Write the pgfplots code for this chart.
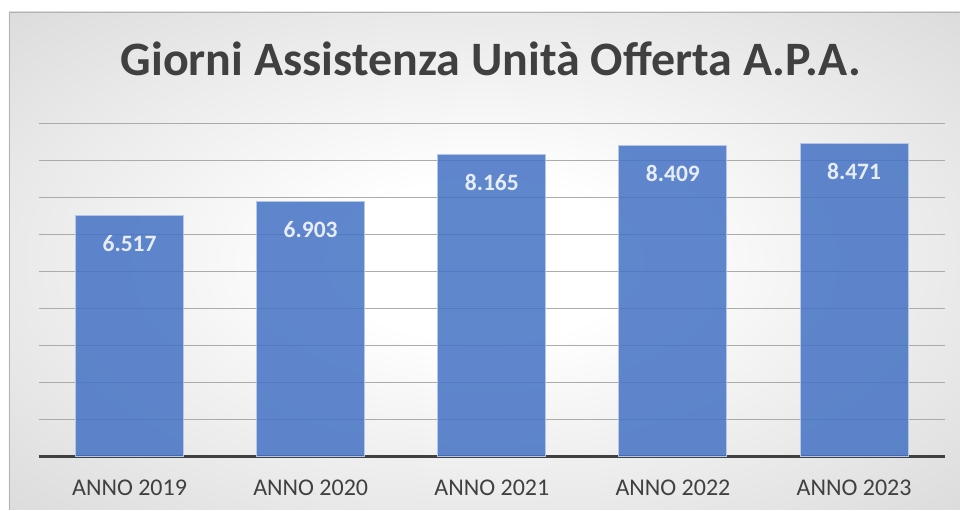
\documentclass[border=0pt]{standalone}
\usepackage{pgfplots}
\pgfplotsset{compat=1.18}
\usepackage{fontspec}
\setmainfont{Carlito}
\definecolor{barblue}{RGB}{68,114,196}
\definecolor{txtgray}{RGB}{64,64,64}
\pgfdeclareradialshading{chartbg}{\pgfpoint{0bp}{0bp}}{%
  color(0bp)=(white); color(8bp)=(white); color(50bp)=(black!21); color(72bp)=(black!28)}

\begin{document}
\begin{tikzpicture}
% page and chart background
\fill[white] (0bp,0bp) rectangle (960bp,510bp);
\shade[shading=chartbg] (9bp,0bp) rectangle (960bp,498bp);
\draw[black!30, line width=0.8bp] (9bp,0bp) -- (9bp,498bp) -- (960bp,498bp);

% title
\node[anchor=base, font=\fontsize{48bp}{52bp}\selectfont\bfseries, text=txtgray, inner sep=0pt]
  at (491bp,434bp) {Giorni Assistenza Unità Offerta A.P.A.};

\begin{axis}[
    at={(39bp,53bp)}, anchor=south west,
    scale only axis,
    width=906bp, height=333bp,
    xmin=-0.5, xmax=4.5,
    ymin=0, ymax=9000,
    ybar, bar width=108bp,
    axis x line*=bottom,
    y axis line style={draw=none},
    x axis line style={-, line width=3bp, color=txtgray},
    xtick=data,
    xticklabels={ANNO 2019,ANNO 2020,ANNO 2021,ANNO 2022,ANNO 2023},
    major tick length=0pt,
    xticklabel style={font=\fontsize{24bp}{26bp}\selectfont, text=txtgray, inner sep=0pt, yshift=-23bp},
    ytick={1000,2000,...,9000},
    yticklabels={},
    ymajorgrids,
    grid style={black!33, line width=1bp},
    nodes near coords,
    point meta=explicit symbolic,
    every node near coord/.append style={anchor=north, inner sep=0pt, yshift=-19bp,
        font=\fontsize{23.5bp}{26bp}\selectfont\bfseries, text=white},
    clip=false,
]
\addplot[fill=barblue, fill opacity=0.85, draw=barblue!40!white, line width=1bp]
  table[meta=label] {
x y label
0 6517 6.517
1 6903 6.903
2 8165 8.165
3 8409 8.409
4 8471 8.471
};
\end{axis}
\end{tikzpicture}
\end{document}
